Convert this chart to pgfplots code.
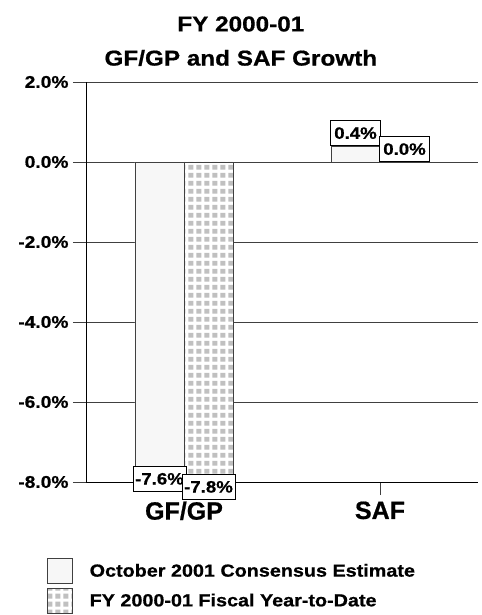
\documentclass[border=0pt]{standalone}
\usepackage{fontspec}
\setmainfont{Liberation Sans}[FakeStretch=1.13, BoldFeatures={FakeBold=0.7}]
\newfontfamily\plainsans{Liberation Sans}[BoldFeatures={FakeBold=0.7}]
\usepackage{pgfplots}
\pgfplotsset{compat=1.18}
\usetikzlibrary{patterns}

\pgfdeclarepatternformonly{graysquares}{\pgfpoint{0bp}{0bp}}{\pgfpoint{7.8bp}{7.8bp}}{\pgfpoint{7.8bp}{7.8bp}}{%
  \pgfpathrectangle{\pgfpoint{1.4bp}{1.4bp}}{\pgfpoint{5bp}{5bp}}%
  \pgfusepath{fill}}

\definecolor{bargrid}{HTML}{404040}
\definecolor{sqgray}{HTML}{C0C0C0}

\begin{document}
\begin{tikzpicture}
\begin{axis}[
    scale only axis,
    width=392bp, height=400bp,
    ybar=0pt,
    bar width=49bp,
    ymin=-8, ymax=2,
    ytick={-8,-6,-4,-2,0,2},
    xmin=-0.5, xmax=1.5,
    xtick={0,1},
    xticklabels={GF/GP, SAF},
    axis x line*=bottom,
    axis y line*=left,
    axis line style={black, line width=0.8pt, -},
    ymajorgrids,
    major grid style={bargrid, line width=0.8pt},
    tick align=outside,
    major tick length=13bp,
    tick style={bargrid, line width=0.8pt},
    /pgf/number format/assume math mode=true,
    yticklabel={\pgfmathprintnumber[fixed,fixed zerofill,precision=1]{\tick}\%},
    yticklabel style={font=\fontsize{17bp}{19bp}\bfseries, xshift=-1bp},
    xticklabel style={font=\plainsans\fontsize{25bp}{27bp}\bfseries, yshift=-3bp},
    nodes near coords={\pgfmathprintnumber[fixed,fixed zerofill,precision=1]{\pgfplotspointmeta}\%},
    nodes near coords align={vertical},
    every node near coord/.append style={draw=black, fill=white, text=black, line width=0.7pt,
      font=\fontsize{16.5bp}{18bp}\bfseries, inner xsep=2bp, inner ysep=0pt,
      minimum height=25bp, minimum width=50bp, yshift=0pt},
    legend style={draw=none, fill=none, at={(axis description cs:-0.1,-0.19)},
      anchor=north west, legend cell align=left, row sep=4bp,
      font=\fontsize{17.5bp}{19bp}\bfseries, inner sep=0pt},
    legend image code/.code={\draw[#1] (0bp,-12.5bp) rectangle (25bp,12.5bp);},
    clip=false,
  ]
  \addplot+[draw=bargrid, line width=0.7pt, fill=black!3] coordinates {(0,-7.6) (1,0.4)};
  \addlegendentry{\hspace{15bp}October 2001 Consensus Estimate}
  \addplot+[draw=bargrid, line width=0.7pt, fill=white,
    postaction={pattern=graysquares, pattern color=sqgray}] coordinates {(0,-7.8) (1,0.0)};
  \addlegendentry{\hspace{15bp}FY 2000-01 Fiscal Year-to-Date}
  \node[font=\fontsize{21.5bp}{24bp}\bfseries] at (axis description cs:0.395,1.145) {FY 2000-01};
  \node[font=\fontsize{21.5bp}{24bp}\bfseries] at (axis description cs:0.395,1.06) {GF/GP and SAF Growth};
\end{axis}
\pgfresetboundingbox
\path (current axis.south west) ++(-86bp,-133bp) rectangle ++(482bp,615bp);
\end{tikzpicture}
\end{document}
